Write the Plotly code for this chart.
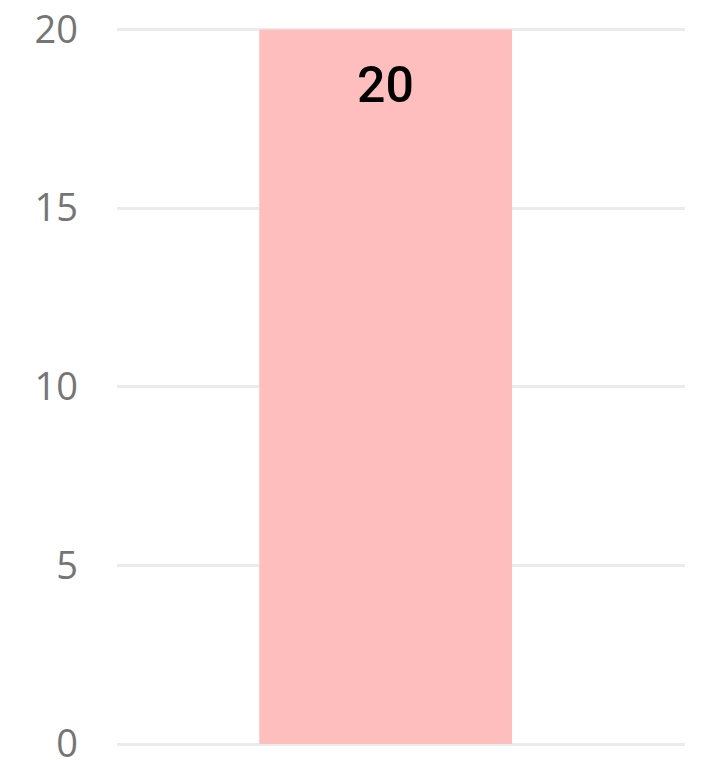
import plotly.graph_objects as go

categories = ['A']
values = [20]
y_ticks = [0, 5, 10, 15, 20]

fig = go.Figure()
fig.add_trace(go.Bar(
    x=categories,
    y=values,
    width=0.445,
    marker=dict(color='#FFBEBE', line=dict(width=0)),
    hoverinfo='skip',
))

# value label near the top of the bar
for cat, val in zip(categories, values):
    fig.add_annotation(
        x=cat, y=val, text=str(val),
        showarrow=False, yanchor='top', yshift=-24,
        font=dict(family='Roboto', size=50, color='#000000', weight=500),
    )

fig.update_layout(
    width=701,
    height=760,
    margin=dict(l=117, r=16, t=26, b=16, autoexpand=False),
    plot_bgcolor='white',
    paper_bgcolor='white',
    showlegend=False,
    xaxis=dict(
        range=[-0.473, 0.527],
        showticklabels=False,
        showgrid=False,
        zeroline=False,
        showline=False,
        automargin=False,
    ),
    yaxis=dict(
        range=[0, 20.1],
        tickvals=y_ticks,
        ticktext=[str(v) for v in y_ticks],
        showgrid=True,
        gridcolor='#EBEBEB',
        gridwidth=3,
        zeroline=True,
        zerolinecolor='#EBEBEB',
        zerolinewidth=3,
        showline=False,
        automargin=False,
        ticklabeloverflow='allow',
        ticklabelstandoff=38,
        tickfont=dict(family='Open Sans', size=38, color='#757575'),
    ),
)

# drop the default body margin so the figure fills the window
fig.write_html(
    'out.html',
    config={'displayModeBar': False},
    post_script="document.body.style.margin = '0';",
)
